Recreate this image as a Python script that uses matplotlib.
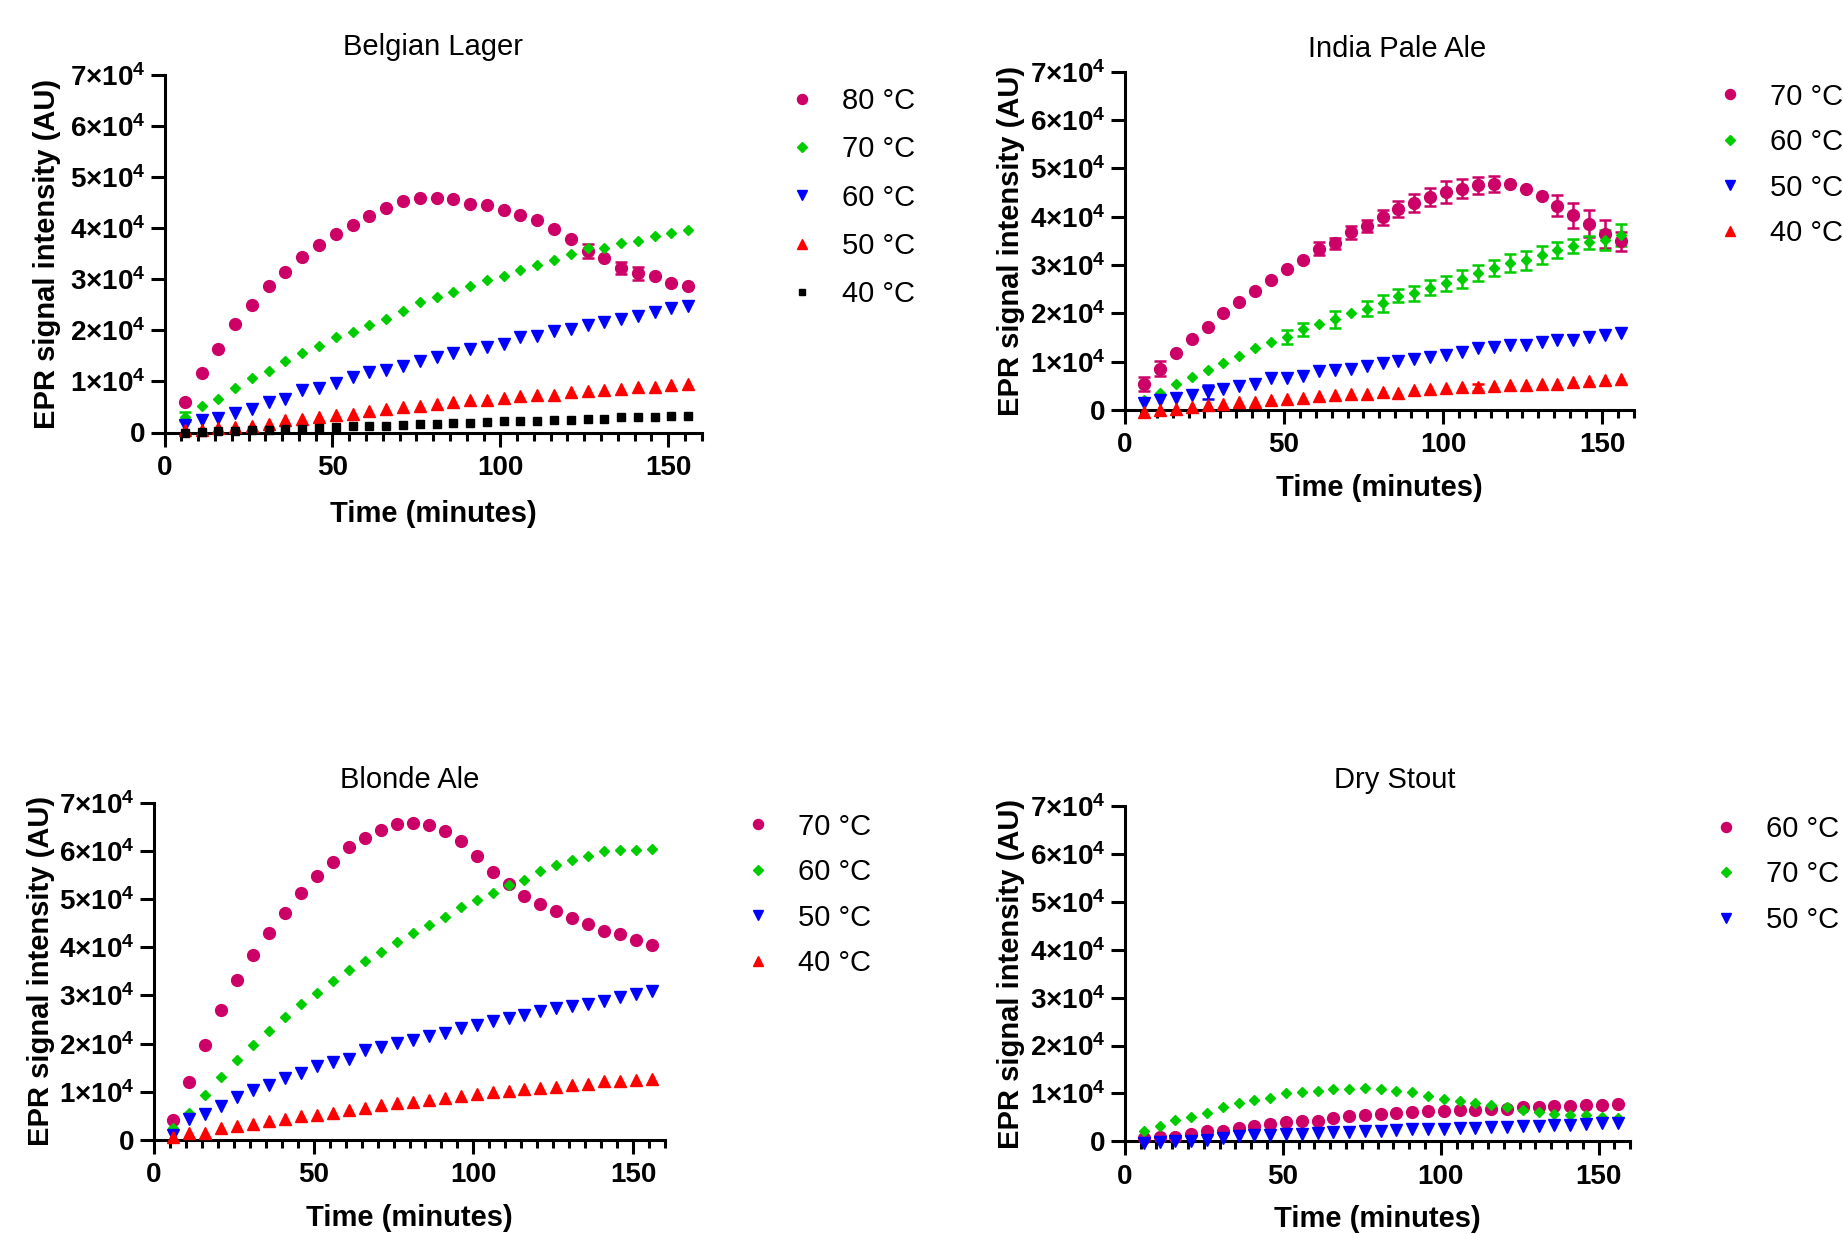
import numpy as np
import matplotlib
matplotlib.use("Agg")
import matplotlib.pyplot as plt
from matplotlib.lines import Line2D
from matplotlib.ticker import MultipleLocator, FixedLocator, FuncFormatter

plt.rcParams['font.family'] = ['Liberation Sans', 'DejaVu Sans']
plt.rcParams['font.weight'] = 'bold'
plt.rcParams['mathtext.fontset'] = 'custom'
plt.rcParams['mathtext.rm'] = 'Liberation Sans:bold'
plt.rcParams['mathtext.it'] = 'Liberation Sans:bold'
plt.rcParams['mathtext.bf'] = 'Liberation Sans:bold'

# ------------------------------
# data (minutes, EPR intensity in AU)
# ------------------------------
time_min = [6, 11, 16, 21, 26, 31, 36, 41, 46, 51, 56, 61, 66, 71, 76, 81,
            86, 91, 96, 101, 106, 111, 116, 121, 126, 131, 136, 141, 146, 151, 156]

# Belgian Lager
lager_80 = [6000, 11600, 16400, 21300, 25000, 28700, 31500, 34400, 36800, 38900, 40700,
            42400, 44000, 45300, 46000, 46000, 45700, 44800, 44500, 43600, 42700, 41700,
            39800, 38000, 35600, 34200, 32300, 31200, 30600, 29300, 28700]
lager_80_err = [0, 0, 0, 0, 0, 0, 0, 0, 0, 0, 0, 0, 0, 0, 0, 0, 0, 0, 0, 0, 0, 0,
                0, 0, 1400, 0, 1200, 1300, 0, 0, 0]
lager_70 = [3100, 5200, 6600, 8700, 10700, 12100, 14000, 15500, 17000, 18700, 19600,
            21100, 22300, 23800, 25500, 26600, 27500, 28700, 29900, 30700, 31900, 32900,
            33800, 34900, 36100, 36100, 37200, 37600, 38500, 39100, 39600]
lager_70_err = [900] + [0] * 30
lager_60 = [1500, 2400, 2900, 3800, 4600, 6000, 6600, 8300, 8800, 9700, 10900,
            11900, 12300, 13100, 14100, 14800, 15600, 16400, 16800, 17400, 18700, 19000,
            19900, 20200, 21000, 21700, 22300, 22800, 23700, 24400, 24700]
lager_50 = [400, 500, 800, 1100, 1200, 1700, 2400, 2700, 3000, 3400, 3700,
            4200, 4600, 4900, 5200, 5600, 5900, 6400, 6400, 6700, 7100, 7400,
            7400, 7900, 8100, 8400, 8600, 8900, 9000, 9300, 9500]
lager_40 = [0, 100, 200, 300, 400, 500, 700, 700, 900, 1100, 1200,
            1200, 1300, 1500, 1700, 1700, 1800, 1900, 2000, 2200, 2300, 2300,
            2500, 2500, 2700, 2700, 2950, 2950, 2950, 3200, 3150]

# India Pale Ale
ipa_70 = [5400, 8600, 11900, 14800, 17200, 20100, 22400, 24600, 26900, 29100, 31000,
          33400, 34500, 36800, 38100, 39900, 41600, 42800, 44100, 45100, 45800, 46500,
          46700, 46700, 45700, 44200, 42300, 40300, 38600, 36400, 34900]
ipa_70_err = [1400, 1550, 0, 0, 0, 0, 0, 0, 0, 0, 0,
              1400, 1200, 1300, 1200, 1600, 1700, 1900, 1900, 2200, 2000, 1800,
              1650, 0, 0, 0, 2150, 2550, 2750, 2850, 2050]
ipa_60 = [2200, 3600, 5400, 6800, 8300, 9700, 11200, 12800, 14100, 15200, 16700,
          17800, 18800, 20000, 21000, 22100, 23700, 24200, 25300, 26300, 27100, 28300,
          29400, 30400, 31000, 32100, 33100, 33900, 34700, 35200, 36300]
ipa_60_err = [0, 0, 0, 0, 0, 0, 0, 0, 0, 1450, 1400,
              0, 1800, 0, 1500, 1700, 1400, 1550, 1550, 1550, 1800, 1650,
              1700, 1900, 2000, 1800, 1700, 1400, 1400, 2050, 2250]
ipa_50 = [1400, 2100, 2600, 3100, 3800, 4300, 5000, 5500, 6600, 6600, 7000,
          8100, 8400, 8600, 9100, 9700, 10100, 10500, 10900, 11500, 12100, 12800,
          13100, 13400, 13400, 14000, 14500, 14600, 15200, 15500, 15900]
ipa_50_err = [0, 0, 0, 0, 1400] + [0] * 26
ipa_40 = [-300, 0, 300, 600, 1000, 1200, 1700, 1700, 2100, 2300, 2600,
          2900, 3100, 3400, 3300, 3700, 3600, 4100, 4300, 4500, 4700, 4700,
          5000, 5200, 5300, 5400, 5500, 5900, 6100, 6200, 6400]
ipa_40_err = [0] * 21 + [800] + [0] * 9

# Blonde Ale
blonde_70 = [4100, 12100, 19800, 27000, 33200, 38400, 42900, 47100, 51300, 54800, 57800,
             60800, 62700, 64400, 65600, 65900, 65300, 64100, 62000, 58900, 55600, 53100,
             50700, 48900, 47600, 46000, 44800, 43400, 42700, 41600, 40500]
blonde_60 = [2400, 5700, 9400, 13000, 16700, 19800, 22700, 25600, 28300, 30500, 33100,
             35300, 37200, 39100, 41200, 42900, 44700, 46200, 48400, 49800, 51200, 52900,
             53900, 55800, 57100, 58200, 58900, 60000, 60100, 60100, 60500]
blonde_50 = [1000, 4300, 5500, 7100, 9000, 10300, 11400, 12900, 14000, 15300, 16200,
             16900, 18600, 19300, 20100, 20700, 21500, 22200, 23200, 23900, 24600, 25300,
             26000, 26700, 27400, 27900, 28300, 28900, 29600, 30300, 30900]
blonde_40 = [700, 1400, 1500, 2400, 2900, 3300, 3900, 4300, 5000, 5200, 5700,
             6200, 6700, 7200, 7600, 7900, 8400, 8800, 9200, 9500, 10000, 10100,
             10500, 10800, 11000, 11400, 11700, 12200, 12300, 12500, 12700]

# Dry Stout
stout_60 = [700, 800, 1000, 1500, 2100, 2100, 2800, 3100, 3600, 4000, 4200,
            4300, 4900, 5200, 5400, 5700, 5900, 6100, 6300, 6400, 6600, 6600,
            6800, 6800, 7200, 7200, 7300, 7400, 7500, 7600, 7800]
stout_70 = [2200, 3100, 4400, 5100, 5900, 7100, 8000, 8700, 9000, 10100, 10300,
            10600, 10900, 10900, 11100, 10900, 10600, 10300, 9400, 8800, 8500, 8000,
            7500, 7100, 6500, 6100, 5800, 5600, 5400, 5100, 4900]
stout_50 = [-300, -200, 0, 0, 300, 700, 1200, 1400, 1400, 1500, 1600,
            1700, 1900, 1900, 2100, 2100, 2400, 2600, 2600, 2600, 2800, 2800,
            2900, 2900, 3300, 3300, 3500, 3500, 3700, 3800, 3800]

MAGENTA = '#CC0066'
GREEN = '#00CC00'
BLUE = '#0000FF'
RED = '#FF0000'
BLACK = '#000000'

# marker style per symbol
STYLE = {
    'o': dict(marker='o', ms=8.5),
    'D': dict(marker='D', ms=5.4),
    'v': dict(marker='v', ms=8.3),
    '^': dict(marker='^', ms=8.3),
    's': dict(marker='s', ms=5.6),
}

W, H = 1843, 1234
fig = plt.figure(figsize=(W / 100, H / 100), dpi=100)


def ytick_fmt(v, pos):
    if abs(v) < 1:
        return '0'
    return f'{int(round(v / 1e4))}×10$^{{4}}$'


def draw_panel(box, title, title_pad, title_dx, xpad, ypad, series, leg_x, leg_y, leg_space):
    left, right, top, bottom = box
    ax = fig.add_axes([left / W, 1 - bottom / H, (right - left) / W, (bottom - top) / H])
    t = np.array(time_min)

    handles = []
    for label, vals, sym, color, err in series:
        vals = np.array(vals, dtype=float)
        st = STYLE[sym]
        if err is not None:
            err = np.array(err, dtype=float)
            m = err > 0
            ax.errorbar(t[m], vals[m], yerr=err[m], fmt='none', ecolor=color,
                        elinewidth=1.8, capsize=4, capthick=1.8, zorder=2, clip_on=False)
        ax.plot(t, vals, linestyle='none', color=color, mec=color, clip_on=False,
                zorder=3, **st)
        handles.append(Line2D([], [], linestyle='none', color=color, mec=color, **st))

    ax.set_xlim(0, 160)
    ax.set_ylim(0, 70000)
    ax.xaxis.set_major_locator(FixedLocator([0, 50, 100, 150]))
    ax.xaxis.set_minor_locator(MultipleLocator(5))
    ax.yaxis.set_major_locator(MultipleLocator(10000))
    ax.yaxis.set_major_formatter(FuncFormatter(ytick_fmt))

    for s in ['top', 'right']:
        ax.spines[s].set_visible(False)
    for s in ['left', 'bottom']:
        ax.spines[s].set_linewidth(2.2)
    ax.tick_params(which='major', length=10, width=2.2, labelsize=20, pad=4)
    ax.tick_params(axis='x', which='major', pad=6)
    ax.tick_params(which='minor', length=6, width=2.2)

    ax.set_xlabel('Time (minutes)', fontsize=21, fontweight='bold', labelpad=xpad)
    ax.set_ylabel('EPR signal intensity (AU)', fontsize=21, fontweight='bold', labelpad=ypad)
    ax.set_title(title, fontsize=21, fontweight='normal', pad=title_pad, x=0.5 + title_dx)

    fs = 21
    fs_px = fs * 100 / 72
    ax.legend(handles, [s[0] for s in series], loc='upper left',
              bbox_to_anchor=((leg_x - 0.4 * fs_px) / W, 1 - (leg_y - 0.55 * fs_px + 4.7) / H),
              bbox_transform=fig.transFigure, frameon=False, borderpad=0,
              borderaxespad=0, handlelength=0.8, handletextpad=0.98,
              labelspacing=leg_space, markerscale=0.85,
              prop={'size': fs, 'weight': 'normal'})
    return ax


draw_panel((164.6, 701.7, 75.2, 432.5), 'Belgian Lager', 14.5, 0.0, 14, 6,
           [('80 °C', lager_80, 'o', MAGENTA, lager_80_err),
            ('70 °C', lager_70, 'D', GREEN, lager_70_err),
            ('60 °C', lager_60, 'v', BLUE, None),
            ('50 °C', lager_50, '^', RED, None),
            ('40 °C', lager_40, 's', BLACK, None)],
           801.6, 98.7, 0.69)

draw_panel((1124.9, 1633.8, 71.7, 410.2), 'India Pale Ale', 10.5, 0.035, 11, 3.5,
           [('70 °C', ipa_70, 'o', MAGENTA, ipa_70_err),
            ('60 °C', ipa_60, 'D', GREEN, ipa_60_err),
            ('50 °C', ipa_50, 'v', BLUE, ipa_50_err),
            ('40 °C', ipa_40, '^', RED, ipa_40_err)],
           1730, 94, 0.60)

draw_panel((154, 665, 802.8, 1140), 'Blonde Ale', 11, 0.0, 11, 3,
           [('70 °C', blonde_70, 'o', MAGENTA, None),
            ('60 °C', blonde_60, 'D', GREEN, None),
            ('50 °C', blonde_50, 'v', BLUE, None),
            ('40 °C', blonde_40, '^', RED, None)],
           758, 824, 0.60)

draw_panel((1124.9, 1630.2, 806.3, 1141.3), 'Dry Stout', 13, 0.035, 11, 3.5,
           [('60 °C', stout_60, 'o', MAGENTA, None),
            ('70 °C', stout_70, 'D', GREEN, None),
            ('50 °C', stout_50, 'v', BLUE, None)],
           1725.5, 826.3, 0.60)

fig.savefig('out.png', dpi=100, facecolor='white')
